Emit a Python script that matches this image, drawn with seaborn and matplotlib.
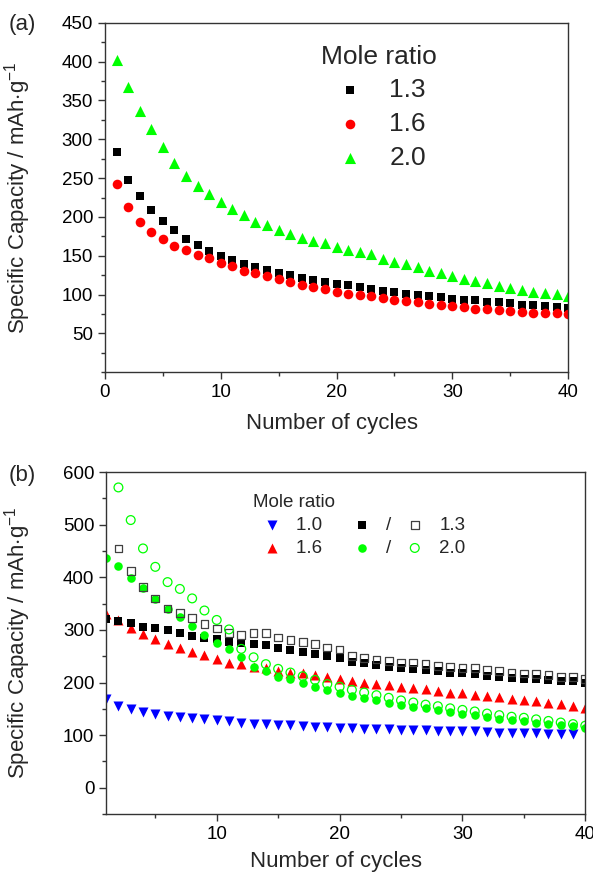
import numpy as np
import matplotlib.pyplot as plt
import seaborn as sns
from matplotlib.ticker import MultipleLocator

# (a) capacity vs cycle number, three mole ratios
cycles_a = np.arange(1, 41)
cap_13 = [284, 248, 227, 209, 195, 183, 172, 164, 156, 150,
          144, 140, 136, 132, 128, 125, 121, 119, 116, 114,
          112, 110, 107, 105, 103, 101, 99, 98, 97, 95,
          93, 93, 91, 90, 89, 87, 87, 85, 84, 83]
cap_16 = [243, 213, 194, 181, 171, 163, 157, 151, 147, 141,
          137, 131, 128, 124, 120, 116, 113, 110, 107, 104,
          101, 100, 98, 96, 93, 92, 90, 88, 87, 85,
          84, 82, 81, 80, 79, 78, 77, 76, 76, 75]
cap_20 = [402, 367, 336, 313, 290, 270, 253, 240, 229, 219,
          210, 202, 194, 189, 183, 178, 173, 169, 166, 161,
          158, 155, 152, 146, 142, 139, 135, 131, 128, 124,
          120, 117, 115, 111, 108, 106, 104, 102, 101, 98]

# (b) filled / open symbols for 1.3 and 2.0
cycles_b = np.arange(1, 41)
b_10 = [168, 156, 150, 144, 141, 137, 134, 132, 130, 128,
        126, 124, 122, 121, 119, 119, 117, 116, 115, 114,
        114, 112, 112, 111, 110, 110, 109, 108, 107, 107,
        107, 106, 105, 105, 104, 104, 103, 102, 102]
b_16 = [330, 319, 303, 292, 282, 273, 265, 259, 252, 245,
        238, 235, 230, 227, 222, 219, 218, 214, 211, 207,
        203, 200, 197, 195, 192, 189, 187, 184, 181, 180,
        176, 174, 172, 169, 166, 164, 161, 159, 156, 152]
b_13_fill = [321, 317, 313, 306, 303, 299, 294, 289, 285, 283,
             278, 275, 273, 271, 266, 261, 259, 254, 250, 246,
             240, 237, 233, 230, 228, 225, 224, 222, 219, 218,
             216, 213, 211, 209, 207, 206, 205, 203, 202, 199]
b_13_open = [455, 412, 382, 360, 341, 332, 323, 311, 303,
             294, 290, 294, 294, 286, 281, 277, 273, 267, 263,
             251, 247, 244, 241, 238, 238, 235, 232, 229, 228,
             228, 224, 222, 219, 217, 216, 214, 211, 210, 207]
b_20_fill = [436, 421, 399, 379, 358, 339, 324, 308, 290, 276,
             264, 249, 230, 222, 211, 206, 199, 192, 186, 180,
             174, 170, 166, 162, 158, 154, 151, 147, 144, 141,
             138, 134, 131, 129, 127, 124, 121, 119, 117, 114]
b_20_open = [571, 509, 455, 420, 391, 378, 360, 337, 319,
             301, 264, 248, 235, 226, 219, 212, 205, 197, 192,
             186, 181, 176, 171, 166, 162, 158, 155, 151, 148,
             145, 141, 138, 135, 133, 130, 127, 124, 121, 118]

sns.set_style("ticks")
plt.rcParams['font.family'] = ['Liberation Sans', 'DejaVu Sans']
plt.rcParams['mathtext.fontset'] = 'custom'
plt.rcParams['mathtext.rm'] = 'Liberation Sans'
plt.rcParams['mathtext.it'] = 'Liberation Sans:italic'

GREEN = '#00ff00'
ylab = 'Specific Capacity / mAh$\\cdot$g$^{-1}$'

fig = plt.figure(figsize=(5.93, 8.72), dpi=100)
ax1 = fig.add_axes([0.177, 0.573, 0.781, 0.401])
ax2 = fig.add_axes([0.179, 0.0665, 0.808, 0.392])

# ---- panel (a)
sns.scatterplot(x=cycles_a, y=cap_13, marker='s', color='black', s=36,
                linewidth=0, label='1.3', ax=ax1)
sns.scatterplot(x=cycles_a, y=cap_16, marker='o', color='red', s=48,
                linewidth=0, label='1.6', ax=ax1)
sns.scatterplot(x=cycles_a, y=cap_20, marker='^', color=GREEN, s=64,
                linewidth=0, label='2.0', ax=ax1)
ax1.set_xlim(0, 40)
ax1.set_ylim(0, 450)
ax1.set_xticks([0, 10, 20, 30, 40])
ax1.set_yticks(range(50, 451, 50))
ax1.xaxis.set_minor_locator(MultipleLocator(5))
ax1.yaxis.set_minor_locator(MultipleLocator(25))
ax1.legend(title='Mole ratio', loc='upper left', bbox_to_anchor=(0.439, 0.975),
           frameon=False, fontsize=19, title_fontsize=19, alignment='left',
           borderpad=0, handlelength=2.2, handletextpad=0.37, labelspacing=0.37)
ax1.set_xlabel('Number of cycles', fontsize=16)
ax1.set_ylabel(ylab, fontsize=16)
ax1.xaxis.set_label_coords(0.49, -0.115)
ax1.yaxis.set_label_coords(-0.155, 0.5)

# ---- panel (b)
sns.scatterplot(x=cycles_b[:len(b_10)], y=b_10, marker='v', color='blue', s=52,
                linewidth=0, label='1.0   ', ax=ax2)
sns.scatterplot(x=cycles_b, y=b_16, marker='^', color='red', s=52,
                linewidth=0, label='1.6   ', ax=ax2)
sns.scatterplot(x=cycles_b, y=b_13_fill, marker='s', color='black', s=28,
                linewidth=0, label='/', ax=ax2)
sns.scatterplot(x=cycles_b, y=b_20_fill, marker='o', color=GREEN, s=38,
                linewidth=0, label='/', ax=ax2)
sns.scatterplot(x=cycles_b[1:], y=b_13_open, marker='s', facecolor='none',
                edgecolor='#404040', s=30, linewidth=0.9, label='1.3', ax=ax2)
sns.scatterplot(x=cycles_b[1:], y=b_20_open, marker='o', facecolor='none',
                edgecolor=GREEN, s=40, linewidth=0.9, label='2.0', ax=ax2)
ax2.set_xlim(1, 40)
ax2.set_ylim(-50, 600)
ax2.set_xticks([10, 20, 30, 40])
ax2.set_yticks(range(0, 601, 100))
ax2.xaxis.set_minor_locator(MultipleLocator(5))
ax2.yaxis.set_minor_locator(MultipleLocator(50))
h, l = ax2.get_legend_handles_labels()
ax2.legend(h, l, title='Mole ratio', ncol=3, loc='upper left',
           bbox_to_anchor=(0.2875, 0.9625), frameon=False, fontsize=13.5,
           title_fontsize=13.5, alignment='left', borderpad=0,
           handlelength=2.0, handletextpad=0.3, columnspacing=0.25,
           labelspacing=0.3)
ax2.set_xlabel('Number of cycles', fontsize=16)
ax2.set_ylabel(ylab, fontsize=16)
ax2.xaxis.set_label_coords(0.48, -0.108)
ax2.yaxis.set_label_coords(-0.152, 0.5)

for ax in (ax1, ax2):
    for sp in ax.spines.values():
        sp.set_color('#333333')
        sp.set_linewidth(1.0)
    ax.tick_params(which='major', direction='out', length=5, width=1,
                   labelsize=13.5, colors='#333333', labelcolor='black')
    ax.tick_params(which='minor', direction='out', length=3, width=1,
                   colors='#333333')
    ax.tick_params(top=False, right=False, which='both')

fig.text(0.038, 0.972, '(a)', fontsize=16, va='center', ha='center')
fig.text(0.038, 0.455, '(b)', fontsize=16, va='center', ha='center')

fig.savefig('out.png', dpi=100)
